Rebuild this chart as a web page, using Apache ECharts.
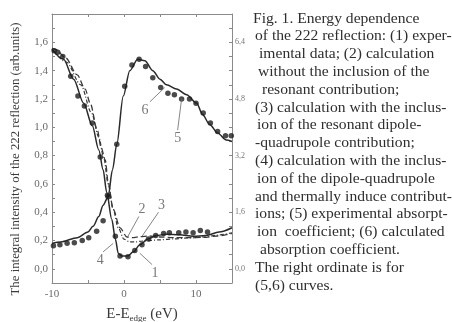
<!DOCTYPE html>
<html><head><meta charset="utf-8">
<script src="https://cdn.jsdelivr.net/npm/echarts@6/dist/echarts.min.js"></script>
<style>html,body{margin:0;padding:0;background:#fff;}#c{width:452px;height:322px;}</style>
</head><body><div id="c"></div>
<script>
// ---- DATA ----
// (1) experimental integral intensity (left axis)
const exp1E = [-9.7, -9.2, -8.5, -7.4, -6.4, -5.5, -4.4, -3.3, -2.3, -1.2, -0.55, 0.55, 1.5, 2.5, 3.4, 4.4, 5.5, 6.3, 7.6, 8.6, 9.6, 10.6, 11.6];
const exp1I = [1.54, 1.53, 1.50, 1.36, 1.22, 1.15, 1.03, 0.79, 0.52, 0.23, 0.09, 0.085, 0.13, 0.17, 0.21, 0.235, 0.25, 0.255, 0.255, 0.26, 0.255, 0.27, 0.26];
// (2) calculation without resonant contribution (left axis)
const calc2E = [-10, -9.5, -8.1, -6.5, -5.4, -4.7, -3.7, -3.2, -2.6, -2.2, -1.5, -0.55, 0.4, 1.2, 2.2, 3.5, 5, 7, 9, 11, 13, 15];
const calc2I = [1.56, 1.55, 1.49, 1.37, 1.27, 1.17, 0.98, 0.86, 0.77, 0.61, 0.42, 0.29, 0.225, 0.22, 0.228, 0.232, 0.225, 0.22, 0.22, 0.222, 0.232, 0.25];
// (3) calculation with resonant dipole-quadrupole contribution (left axis)
const calc3E = [-10, -8, -6, -4.5, -3.5, -2.8, -2.2, -1.5, -0.8, 0, 0.8, 1.6, 2.4, 3.5, 5, 7, 9, 11, 13, 15];
const calc3I = [1.55, 1.46, 1.30, 1.10, 0.93, 0.78, 0.60, 0.42, 0.29, 0.21, 0.19, 0.19, 0.195, 0.2, 0.205, 0.212, 0.218, 0.225, 0.238, 0.255];
// (4) calculation with dipole-quadrupole and thermally induced contributions (left axis)
const calc4E = [-10, -8.4, -7, -5.6, -4.4, -3.5, -2.9, -2.4, -1.7, -1.2, -0.8, -0.3, 0.5, 1.3, 2.2, 3.3, 4.5, 5.9, 7.7, 9.6, 11.4, 13.2, 15];
const calc4I = [1.55, 1.48, 1.34, 1.17, 1.01, 0.84, 0.70, 0.54, 0.35, 0.21, 0.11, 0.09, 0.09, 0.12, 0.17, 0.21, 0.235, 0.245, 0.24, 0.23, 0.235, 0.26, 0.29];
// (5) experimental absorption coefficient (right axis)
const exp5E = [-9.8, -8.9, -7.9, -6.9, -5.8, -4.9, -3.8, -2.9, -2.2, -1.0, 0.1, 1.1, 2.1, 3.0, 4.0, 5.1, 6.1, 7.0, 8.0, 9.1, 10.0, 11.0, 12.0, 13.0, 14.1, 14.9];
const exp5A = [0.65, 0.68, 0.72, 0.74, 0.80, 0.88, 1.06, 1.36, 2.04, 3.52, 5.16, 5.76, 5.92, 5.72, 5.40, 5.12, 4.96, 4.92, 4.80, 4.80, 4.68, 4.40, 4.12, 3.88, 3.76, 3.76];
// (6) calculated absorption coefficient (right axis)
const calc6E = [-10, -8.8, -6.5, -5, -4.3, -3.5, -2.9, -2.2, -1.6, -1.0, -0.1, 0.8, 1.9, 2.9, 4.0, 5.0, 5.9, 7.3, 8.7, 10.1, 10.9, 11.9, 13.0, 14.2, 15];
const calc6A = [0.72, 0.76, 0.88, 1.04, 1.20, 1.48, 1.80, 2.04, 2.80, 3.52, 4.88, 5.60, 5.92, 5.88, 5.60, 5.36, 5.20, 5.08, 4.92, 4.68, 4.36, 4.08, 3.84, 3.64, 3.60];
// curve number annotations: label, text position, leader start, leader end (left-axis units)
const annoLabels = ['6', '5', '2', '3', '4', '1'];
const annoText = [[2.9, 1.12], [7.45, 0.92], [2.5, 0.42], [5.2, 0.45], [-3.3, 0.06], [4.3, -0.035]];
const annoFrom = [[3.6, 1.18], [7.45, 0.98], [2.07, 0.37], [4.8, 0.40], [-2.9, 0.12], [3.9, 0.03]];
const annoTo = [[5.65, 1.28], [8.0, 1.20], [0.55, 0.23], [2.5, 0.23], [-1.5, 0.18], [2.2, 0.11]];
// tick labels
const xTickLabels = [-10, 0, 10];
const leftTickLabels = [0.0, 0.2, 0.4, 0.6, 0.8, 1.0, 1.2, 1.4, 1.6];
const rightTickLabels = [0.0, 1.6, 3.2, 4.8, 6.4];
const xTitle = 'E-E';
const xTitleSub = 'edge';
const xTitleUnit = ' (eV)';
const yTitle = 'The integral intensity of the 222 reflection (arb.units)';
const captionLines = [
  'Fig. 1. Energy dependence',
  'of the 222 reflection: (1) exper-',
  'imental data; (2) calculation',
  'without the inclusion of the',
  'resonant contribution;',
  '(3) calculation with the inclus-',
  'ion of the resonant dipole-',
  '-quadrupole contribution;',
  '(4) calculation with the inclus-',
  'ion of the dipole-quadrupole',
  'and thermally induce contribut-',
  'ions; (5) experimental absorpt-',
  'ion  coefficient; (6) calculated',
  'absorption coefficient.',
  'The right ordinate is for',
  '(5,6) curves.'
];

// ---- CHART ----
const zip = (a, b) => a.map((v, i) => [v, b[i]]);
const fmt = v => v.toFixed(1).replace('.', ',');
const near = (list, v) => list.some(t => Math.abs(t - v) < 1e-6);
const SERIF = '"Liberation Serif","DejaVu Serif",serif';
const INK = '#2e2e2e';
const AXIS = '#8a8a8a';

const chart = echarts.init(document.getElementById('c'), null, {renderer: 'canvas'});
const captionX = [253, 255, 259, 258, 262, 255, 257, 255, 255, 257, 255, 255, 257, 260, 255, 255];
const graphics = captionLines.map((t, i) => ({
  type: 'text', left: captionX[i], top: 10.5 + i * 17.8,
  style: {text: t, font: '15.6px ' + SERIF, fill: INK}
}));
graphics.push({
  type: 'text', x: 16, y: 159, rotation: Math.PI / 2,
  style: {text: yTitle, font: '12.8px ' + SERIF, fill: '#3a3a3a', align: 'center', verticalAlign: 'middle'}
});
graphics.push({
  type: 'text', x: 142, y: 314,
  style: {
    text: '{a|' + xTitle + '}{b|' + xTitleSub + '}{a|' + xTitleUnit + '}',
    align: 'center', verticalAlign: 'middle',
    rich: {
      a: {font: '15px ' + SERIF, fill: '#3a3a3a', color: '#3a3a3a'},
      b: {font: '9px ' + SERIF, fill: '#3a3a3a', color: '#3a3a3a', padding: [10, 0, 0, 0]}
    }
  }
});

const lineBase = {type: 'line', showSymbol: false, smooth: 0.3, smoothMonotone: 'x', silent: true, z: 3};
const option = {
  animation: false,
  backgroundColor: '#fff',
  grid: {left: 52, right: 220, top: 14, bottom: 39},
  xAxis: [{
    type: 'value', min: -10, max: 15, interval: 5,
    axisLine: {onZero: false, lineStyle: {color: AXIS}}, splitLine: {show: false},
    axisTick: {inside: true, length: 3, lineStyle: {color: AXIS}},
    axisLabel: {margin: 6, color: '#6a6a6a', fontFamily: SERIF, fontSize: 11,
      formatter: v => near(xTickLabels, v) ? String(v) : ''}
  }, {
    type: 'value', position: 'top', min: -10, max: 15, interval: 5,
    axisLine: {show: true, onZero: false, lineStyle: {color: AXIS}}, splitLine: {show: false},
    axisTick: {inside: true, length: 3, lineStyle: {color: AXIS}},
    axisLabel: {show: false}
  }],
  yAxis: [{
    type: 'value', min: -0.1, max: 1.8, interval: 0.1,
    axisLine: {show: true, onZero: false, lineStyle: {color: AXIS}}, splitLine: {show: false},
    axisTick: {inside: true, length: 3, lineStyle: {color: AXIS}},
    axisLabel: {margin: 4, color: '#6a6a6a', fontFamily: SERIF, fontSize: 11,
      formatter: v => near(leftTickLabels, v) ? fmt(v) : ''}
  }, {
    type: 'value', position: 'right', min: -0.4, max: 7.2, interval: 0.4,
    axisLine: {show: true, onZero: false, lineStyle: {color: AXIS}}, splitLine: {show: false},
    axisTick: {inside: true, length: 3, lineStyle: {color: AXIS}},
    axisLabel: {margin: 3, color: '#777', fontFamily: SERIF, fontSize: 8, padding: [0, 0, 4, 0],
      formatter: v => near(rightTickLabels, v) ? fmt(v) : ''}
  }],
  graphic: graphics,
  series: [
    Object.assign({}, lineBase, {name: '2', data: zip(calc2E, calc2I),
      lineStyle: {color: '#3a3a3a', width: 1.3, type: [6, 3]}}),
    Object.assign({}, lineBase, {name: '3', data: zip(calc3E, calc3I),
      lineStyle: {color: '#3a3a3a', width: 1.2, type: [4, 2, 1, 2]}}),
    Object.assign({}, lineBase, {name: '4', data: zip(calc4E, calc4I),
      lineStyle: {color: '#2a2a2a', width: 1.5},
      markLine: {silent: true, symbol: 'none', label: {show: false},
        lineStyle: {color: '#666', width: 0.8, type: 'solid'},
        data: annoFrom.map((f, i) => [{coord: f}, {coord: annoTo[i]}])}}),
    Object.assign({}, lineBase, {name: '6', yAxisIndex: 1, data: zip(calc6E, calc6A),
      lineStyle: {color: '#2a2a2a', width: 1.5}}),
    {type: 'scatter', name: '1', data: zip(exp1E, exp1I), symbol: 'circle', symbolSize: 5.5,
      itemStyle: {color: '#1e1e1e'}, silent: true, z: 4},
    {type: 'scatter', name: '5', yAxisIndex: 1, data: zip(exp5E, exp5A), symbol: 'circle', symbolSize: 5.5,
      itemStyle: {color: '#1e1e1e'}, silent: true, z: 4},
    {type: 'scatter', name: 'labels', data: annoText.map((p, i) => [p[0], p[1], annoLabels[i]]),
      symbolSize: 1, itemStyle: {color: 'rgba(0,0,0,0)'}, silent: true, z: 5,
      label: {show: true, position: 'inside', formatter: p => p.value[2],
        fontFamily: SERIF, fontSize: 14, color: '#555'}}
  ]
};
chart.setOption(option);
</script>
</body></html>
